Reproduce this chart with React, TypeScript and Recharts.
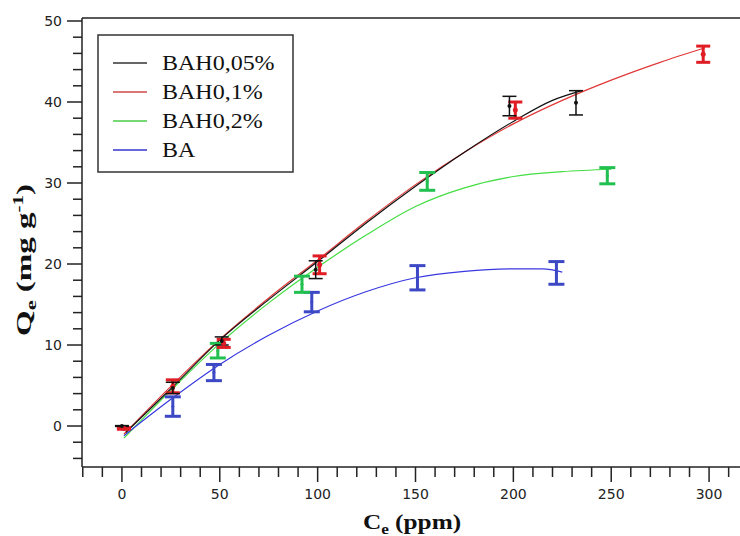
import React from 'react';
import { ComposedChart, Line, Scatter, ErrorBar, XAxis, YAxis, ReferenceLine } from 'recharts';

// fitted curves (Ce in ppm, Qe in mg/g)
const bah005FitC = [2, 25, 50, 75, 100, 125, 150, 175, 200, 220, 235];
const bah005FitQ = [-0.8, 4.6, 10.6, 15.6, 20.3, 25.1, 29.6, 33.8, 37.6, 40.2, 41.4];
const bah01FitC = [1, 25, 50, 75, 100, 125, 150, 175, 200, 225, 250, 275, 298];
const bah01FitQ = [-1.0, 4.9, 10.7, 15.8, 20.5, 25.3, 29.8, 33.8, 37.3, 40.2, 42.7, 44.9, 46.7];
const bah02FitC = [1, 25, 50, 75, 100, 125, 150, 175, 200, 225, 250];
const bah02FitQ = [-1.5, 4.4, 10.2, 15.2, 19.6, 23.6, 27.1, 29.4, 30.8, 31.4, 31.7];
const baFitC = [1, 25, 50, 75, 100, 125, 150, 175, 200, 215, 225];
const baFitQ = [-1.2, 3.3, 7.6, 11.2, 14.2, 16.6, 18.3, 19.1, 19.4, 19.4, 19.0];

// measured points with error
const bah005C = [0, 26, 51, 99, 198, 232];
const bah005Q = [0, 4.7, 10.5, 19.3, 39.5, 39.9];
const bah005Err = [0.05, 0.7, 0.5, 1.1, 1.2, 1.5];
const bah01C = [1, 26, 52, 101, 201, 297];
const bah01Q = [-0.3, 4.9, 10.2, 19.9, 39.0, 45.9];
const bah01Err = [0.1, 0.8, 0.5, 1.1, 1.0, 1.0];
const bah02C = [49, 92, 156, 248];
const bah02Q = [9.3, 17.5, 30.2, 30.9];
const bah02Err = [0.9, 1.0, 1.1, 1.0];
const baC = [26, 47, 97, 151, 222];
const baQ = [2.4, 6.6, 15.3, 18.3, 18.9];
const baErr = [1.2, 1.0, 1.2, 1.5, 1.4];

const legendNames = ['BAH0,05%', 'BAH0,1%', 'BAH0,2%', 'BA'];
const legendColors = ['#333333', '#cc4848', '#48cc48', '#3434cc'];

const xTicks = Array.from({ length: 34 }, (_, i) => -20 + i * 10);
const yTicks = Array.from({ length: 28 }, (_, i) => -4 + i * 2);

const curve = (c: number[], q: number[]) => c.map((x, i) => ({ x, y: q[i] }));
const points = (c: number[], q: number[], e: number[]) => c.map((x, i) => ({ x, y: q[i], err: e[i] }));

const AXIS = '#222';

const YTick = (props: any) => {
  const { x, y, payload } = props;
  const major = payload.value % 10 === 0;
  return (
    <g>
      <line x1={x - (major ? 15 : 9)} x2={x} y1={y} y2={y} stroke={AXIS} strokeWidth={1.5} />
      {major && (
        <text x={x - 20} y={y} dy="0.36em" textAnchor="end" fontSize={14} fontFamily="DejaVu Sans" fill={AXIS}>
          {payload.value}
        </text>
      )}
    </g>
  );
};

const XTick = (props: any) => {
  const { x, y, payload } = props;
  const major = payload.value % 50 === 0;
  return (
    <g>
      <line x1={x} x2={x} y1={y} y2={y + (major ? 15 : 10)} stroke={AXIS} strokeWidth={1.5} />
      {major && (
        <text x={x} y={y + 27} dy="0.36em" textAnchor="middle" fontSize={14} fontFamily="DejaVu Sans" fill={AXIS}>
          {payload.value}
        </text>
      )}
    </g>
  );
};

const Dot = (color: string, r: number) => (props: any) =>
  <circle cx={props.cx} cy={props.cy} r={r} fill={color} />;

export default function App() {
  return (
    <div style={{ position: 'absolute', left: 0, top: 0, width: 740, height: 536, background: '#fff' }}>
      <ComposedChart width={740} height={536} margin={{ top: 18, right: 0, bottom: 0, left: 0 }}>
        <XAxis
          dataKey="x"
          type="number"
          domain={[-20.4, 315.8]}
          ticks={xTicks}
          interval={0}
          height={69}
          tickSize={0}
          tickMargin={0}
          tickLine={false}
          tick={XTick}
          axisLine={{ stroke: AXIS, strokeWidth: 1.5 }}
          allowDataOverflow
        />
        <YAxis
          type="number"
          domain={[-5.06, 50.37]}
          ticks={yTicks}
          interval={0}
          width={82}
          tickSize={0}
          tickMargin={0}
          tickLine={false}
          tick={YTick}
          axisLine={{ stroke: AXIS, strokeWidth: 1.5 }}
          allowDataOverflow
        />
        <ReferenceLine y={50.37} stroke={AXIS} strokeWidth={1.5} />

        <Line data={curve(bah02FitC, bah02FitQ)} dataKey="y" type="monotone" stroke="#44dd44" strokeWidth={1.2} dot={false} isAnimationActive={false} />
        <Line data={curve(baFitC, baFitQ)} dataKey="y" type="monotone" stroke="#3838e0" strokeWidth={1.2} dot={false} isAnimationActive={false} />
        <Line data={curve(bah01FitC, bah01FitQ)} dataKey="y" type="monotone" stroke="#e03838" strokeWidth={1.2} dot={false} isAnimationActive={false} />
        <Line data={curve(bah005FitC, bah005FitQ)} dataKey="y" type="monotone" stroke="#111" strokeWidth={1.2} dot={false} isAnimationActive={false} />

        <Scatter data={points(baC, baQ, baErr)} dataKey="y" shape={Dot('#3c48c4', 1.5)} isAnimationActive={false}>
          <ErrorBar dataKey="err" direction="y" width={8} stroke="#3c48c4" strokeWidth={3} />
        </Scatter>
        <Scatter data={points(bah02C, bah02Q, bah02Err)} dataKey="y" shape={Dot('#22c050', 1.5)} isAnimationActive={false}>
          <ErrorBar dataKey="err" direction="y" width={8} stroke="#22c050" strokeWidth={3} />
        </Scatter>
        <Scatter data={points(bah01C, bah01Q, bah01Err)} dataKey="y" shape={Dot('#e01c24', 2.5)} isAnimationActive={false}>
          <ErrorBar dataKey="err" direction="y" width={7} stroke="#e01c24" strokeWidth={3} />
        </Scatter>
        <Scatter data={points(bah005C, bah005Q, bah005Err)} dataKey="y" shape={Dot('#111', 2)} isAnimationActive={false}>
          <ErrorBar dataKey="err" direction="y" width={7} stroke="#111" strokeWidth={1.5} />
        </Scatter>
      </ComposedChart>

      <svg width={740} height={536} style={{ position: 'absolute', left: 0, top: 0, pointerEvents: 'none' }}>
        <rect x={98} y={35} width={195} height={137} fill="#fff" stroke="#333" strokeWidth={1.5} />
        {legendNames.map((name, i) => (
          <g key={name}>
            <line x1={113} x2={147} y1={63 + i * 29} y2={63 + i * 29} stroke={legendColors[i]} strokeWidth={1.5} />
            <g transform={`translate(162, ${63 + i * 29}) scale(1.2, 1)`}>
              <text x={0} y={0} dy="0.34em" fontSize={20} fontFamily="Liberation Serif" fill="#111">
                {name}
              </text>
            </g>
          </g>
        ))}
        <g transform="translate(24, 260) rotate(-90) scale(1.5, 1)">
          <text x={0} y={0} dy="0.34em" textAnchor="middle" fontSize={22} fontWeight="bold" fontFamily="Liberation Serif" fill="#111">
            Q<tspan fontSize={15} dy={5}>e</tspan>
            <tspan dy={-5}> (mg g</tspan>
            <tspan fontSize={14} dy={-8}>-1</tspan>
            <tspan dy={8}>)</tspan>
          </text>
        </g>
        <g transform="translate(412, 522) scale(1.15, 1)">
          <text x={0} y={0} dy="0.34em" textAnchor="middle" fontSize={22} fontWeight="bold" fontFamily="Liberation Serif" fill="#111">
            C<tspan fontSize={15} dy={5}>e</tspan>
            <tspan dy={-5}> (ppm)</tspan>
          </text>
        </g>
      </svg>
    </div>
  );
}
